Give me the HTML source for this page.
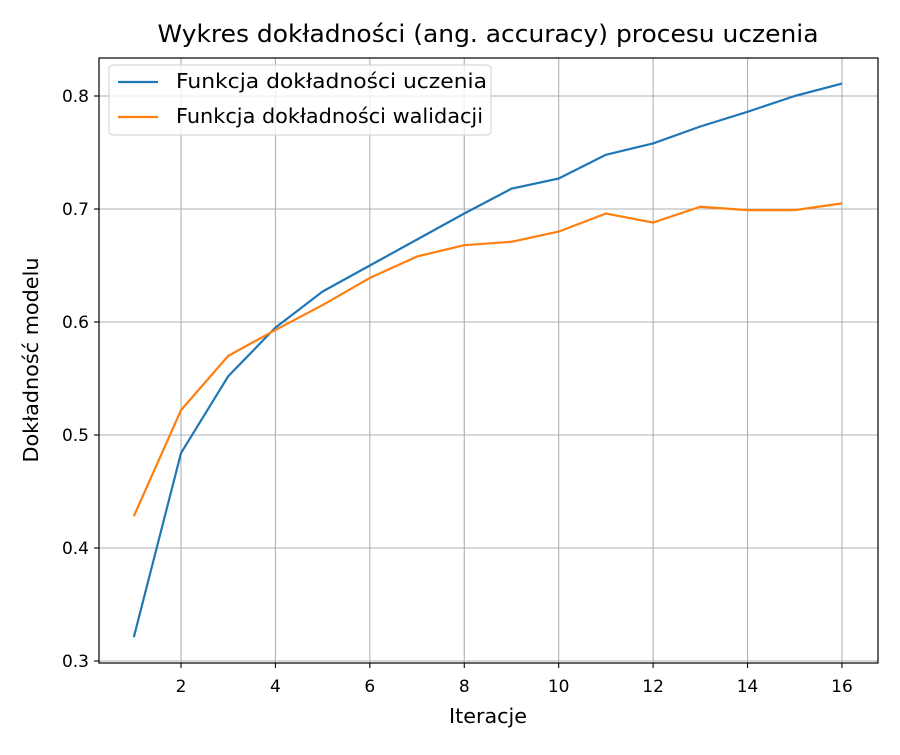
<!DOCTYPE html>
<html><head><meta charset="utf-8"><style>
body{margin:0;background:#fff;}
svg text{font-family:"DejaVu Sans","Liberation Sans",sans-serif;fill:#000;}
</style></head><body>
<svg id="chart" width="900" height="750" viewBox="0 0 900 750" xmlns="http://www.w3.org/2000/svg">
<rect width="900" height="750" fill="#fff"/>
<g id="grid"></g>
<g id="series"></g>
<rect x="99" y="58" width="779" height="605" fill="none" stroke="#000" stroke-width="1.2"/>
<g id="ticks"></g>
<text x="488" y="42" font-size="24" text-anchor="middle" textLength="661" lengthAdjust="spacingAndGlyphs">Wykres dokładności (ang. accuracy) procesu uczenia</text>
<text x="488" y="723" font-size="20" text-anchor="middle" textLength="78" lengthAdjust="spacingAndGlyphs">Iteracje</text>
<text transform="translate(38,360) rotate(-90)" font-size="20" text-anchor="middle" textLength="205" lengthAdjust="spacingAndGlyphs">Dokładność modelu</text>
<g>
<rect x="109" y="65" width="382" height="70" rx="4" fill="#fff" fill-opacity="0.8" stroke="#ccc"/>
<line x1="118" y1="82" x2="158" y2="82" stroke="#1f77b4" stroke-width="2.2"/>
<text x="176" y="88" font-size="20" textLength="311" lengthAdjust="spacingAndGlyphs">Funkcja dokładności uczenia</text>
<line x1="118" y1="117" x2="158" y2="117" stroke="#ff7f0e" stroke-width="2.2"/>
<text x="176" y="123" font-size="20" textLength="307" lengthAdjust="spacingAndGlyphs">Funkcja dokładności walidacji</text>
</g>
</svg>
<script>
const epochs=[1,2,3,4,5,6,7,8,9,10,11,12,13,14,15,16];
const trainAcc=[0.321,0.484,0.552,0.595,0.627,0.650,0.673,0.696,0.718,0.727,0.748,0.758,0.773,0.786,0.800,0.811];
const valAcc=[0.428,0.522,0.570,0.593,0.615,0.639,0.658,0.668,0.671,0.680,0.696,0.688,0.702,0.699,0.699,0.705];
const xTicks=[2,4,6,8,10,12,14,16];
const yTicks=[0.3,0.4,0.5,0.6,0.7,0.8];
const NS="http://www.w3.org/2000/svg";
function xs(v){return 133.8+(v-1)*47.21;}
function ys(v){return 661-(v-0.3)*1130;}
function mk(t,a,p){const e=document.createElementNS(NS,t);for(const k in a)e.setAttribute(k,a[k]);p.appendChild(e);return e;}
const grid=document.getElementById('grid'),ticks=document.getElementById('ticks'),series=document.getElementById('series');
xTicks.forEach(v=>{const x=xs(v);
 const g=mk('line',{x1:x,x2:x,y1:58,y2:663,stroke:'#b0b0b0','stroke-width':1.1},grid);
 
 
 mk('line',{x1:x,x2:x,y1:663,y2:668,stroke:'#000','stroke-width':1.1},ticks);
 const t=mk('text',{x:x,y:692,'font-size':17,'text-anchor':'middle'},ticks);t.textContent=v;
 
 });
yTicks.forEach(v=>{const y=ys(v);
 const g=mk('line',{x1:99,x2:878,y1:y,y2:y,stroke:'#b0b0b0','stroke-width':1.1},grid);
 
 
 mk('line',{x1:94,x2:99,y1:y,y2:y,stroke:'#000','stroke-width':1.1},ticks);
 const t=mk('text',{x:89,y:y+6,'font-size':17,'text-anchor':'end'},ticks);t.textContent=v.toFixed(1);
 
 });
function line(vals,color,name){const p=mk('polyline',{points:vals.map((v,i)=>xs(epochs[i])+','+ys(v)).join(' '),fill:'none',stroke:color,'stroke-width':2.2,'stroke-linejoin':'round'},series);
 
 }
line(trainAcc,'#1f77b4','train-accuracy-line');
line(valAcc,'#ff7f0e','validation-accuracy-line');
</script>
</body></html>
